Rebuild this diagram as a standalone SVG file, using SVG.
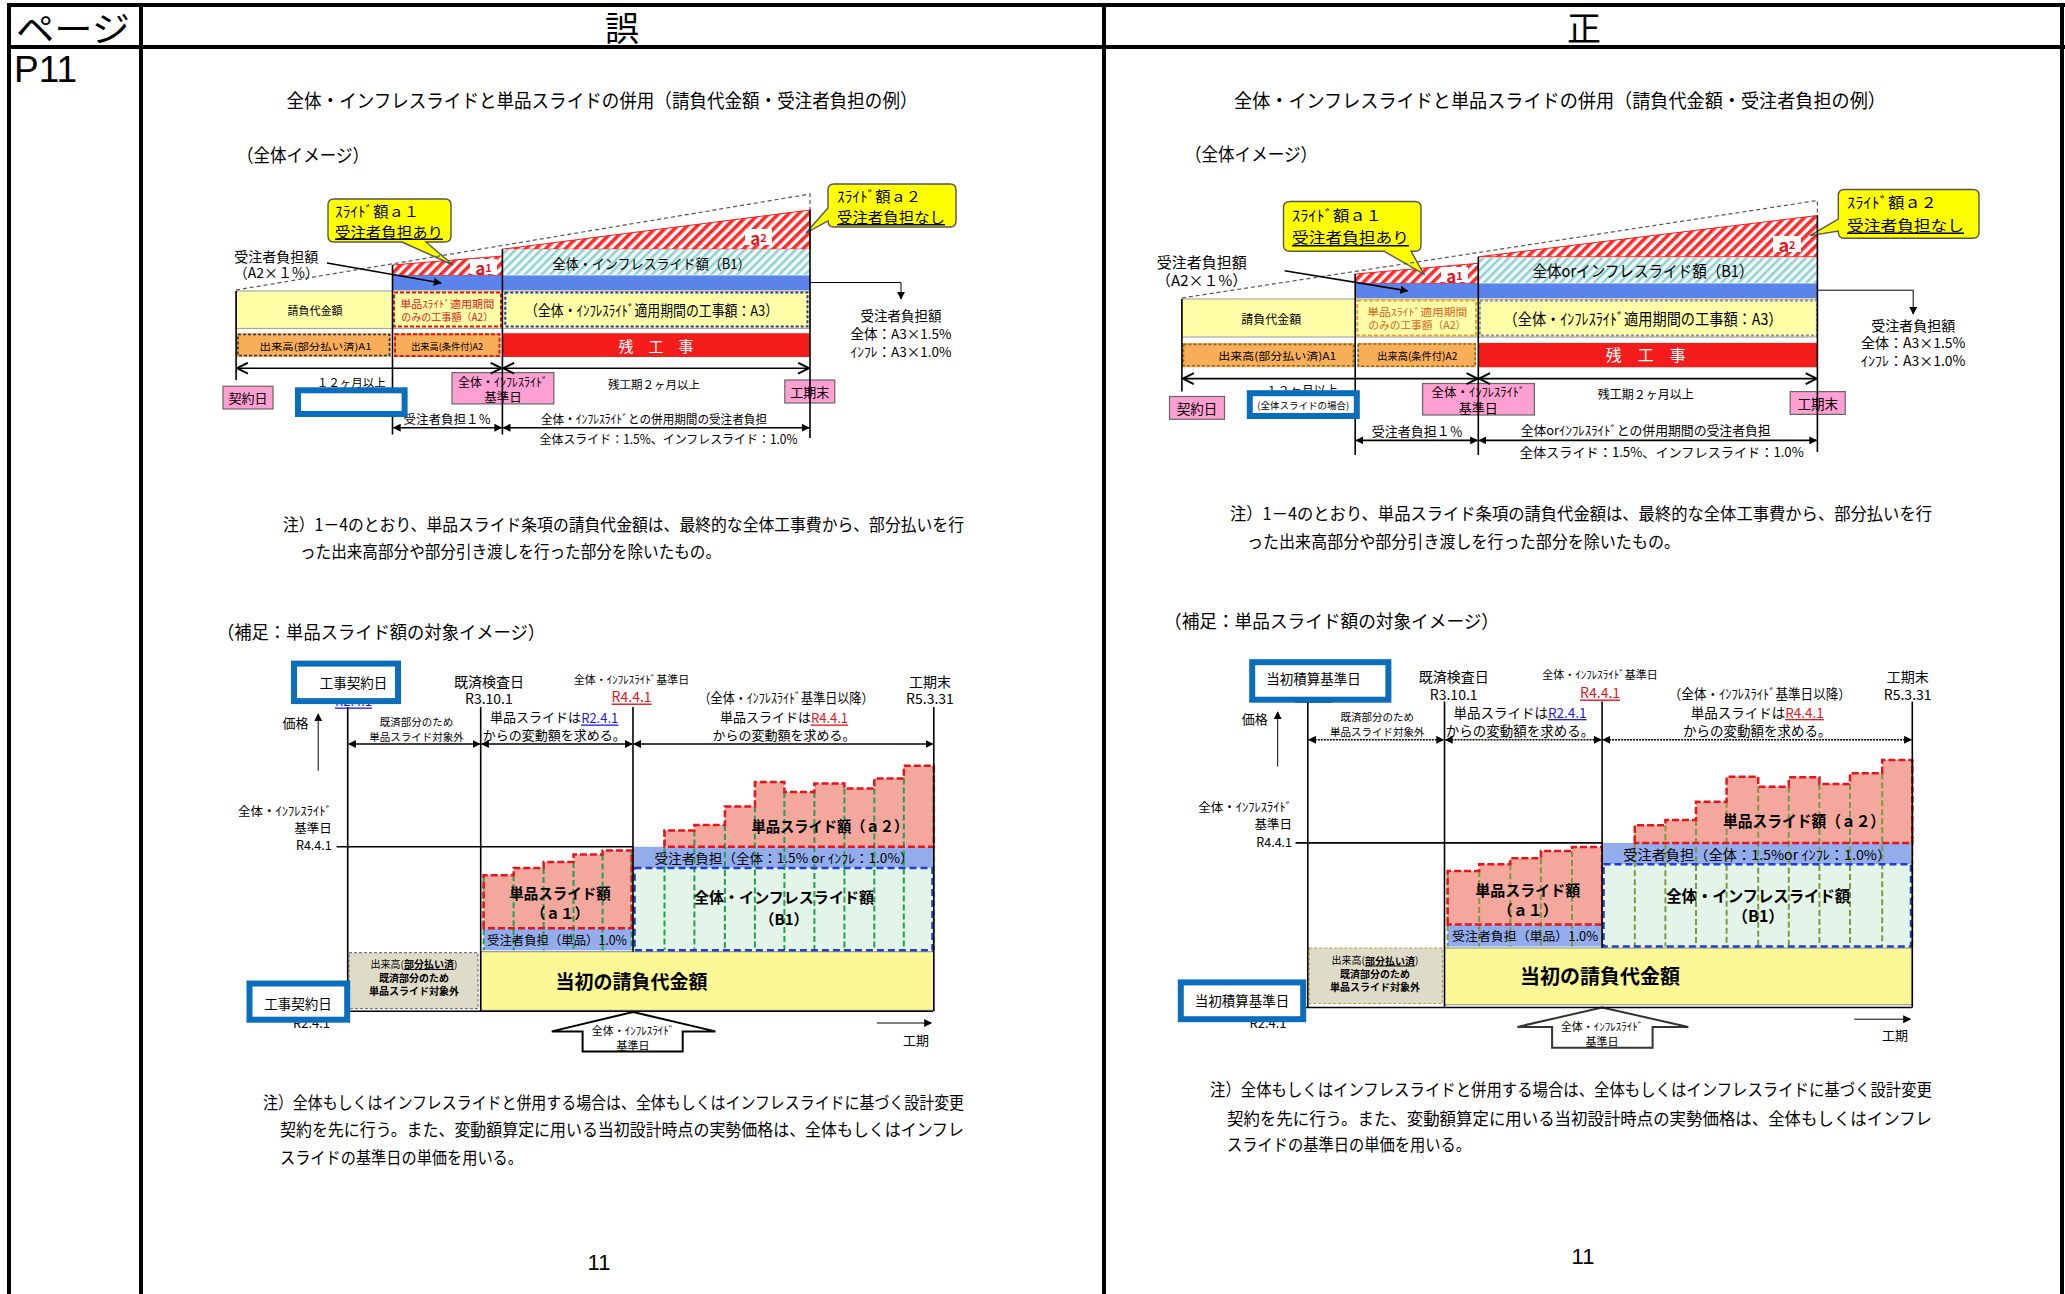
<svg xmlns="http://www.w3.org/2000/svg" width="2065" height="1294" viewBox="0 0 2065 1294">
<defs>
<style>
text{font-family:"Noto Sans CJK JP","Noto Sans",sans-serif;fill:#000;dominant-baseline:central}
.m{text-anchor:middle}
.e{text-anchor:end}
.b{font-weight:bold}
.u{text-decoration:underline}
.grid{stroke:#000;stroke-width:4;fill:none}
.ln{stroke:#000;stroke-width:1.6;fill:none}
.thin{stroke:#000;stroke-width:1;fill:none}
.dsh{stroke:#555;stroke-width:1.2;fill:none;stroke-dasharray:4 3}
.hl{fill:#fff;stroke:#0a6ebd;stroke-width:6}
.pink{fill:#ff9fd2;stroke:#666;stroke-width:1.2}
.call{fill:#ffff00;stroke:#555;stroke-width:1.4}
.yel{fill:#ffffa8;stroke:#999;stroke-width:1}
.org{fill:#f8ad58}
.red{fill:#f51c1c}
.blu{fill:#5a84ea}
.hr{fill:url(#hr);stroke:#f02020;stroke-width:1}
.ht{fill:url(#ht)}
.rd{fill:none;stroke:#e8141c;stroke-width:2;stroke-dasharray:4 2}
.bd{fill:none;stroke:#2838a8;stroke-width:2;stroke-dasharray:3 2}
.kd{fill:none;stroke:#333;stroke-width:1.6;stroke-dasharray:3 2}
.sal{fill:#f4a79d}
.lb{fill:#93adec}
.b1{fill:#e3f5e8}
.gv{stroke:#22a050;stroke-width:2;stroke-dasharray:6 3;fill:none}
.rs{fill:none;stroke:#e8141c;stroke-width:2.5;stroke-dasharray:7 3}
.bb{fill:none;stroke:#1f3fd0;stroke-width:2.5;stroke-dasharray:7 4}
.ty{fill:#fbf895;stroke:#888;stroke-width:1}
.gr{fill:#dedbc8;stroke:#777;stroke-width:1.2;stroke-dasharray:3 2}
.lbl{fill:#fff}
.al{fill:#e8141c;font-weight:bold}
.bl{fill:#1a1aee}
.rr{fill:#e8141c}
</style>
<pattern id="hr" width="7" height="7" patternUnits="userSpaceOnUse" patternTransform="rotate(45)"><rect width="7" height="7" fill="#fff"/><rect width="3.6" height="7" fill="#ff2a2a"/></pattern>
<pattern id="ht" width="6" height="6" patternUnits="userSpaceOnUse" patternTransform="rotate(45)"><rect width="6" height="6" fill="#eef8f8"/><rect width="2.4" height="6" fill="#8fcfd0"/></pattern>
<marker id="ar" viewBox="0 0 10 10" refX="9" refY="5" markerWidth="8" markerHeight="8" markerUnits="userSpaceOnUse" orient="auto-start-reverse"><path d="M0,0 L10,5 L0,10 z" fill="#000"/></marker>
<marker id="ch" viewBox="0 0 12 12" refX="11" refY="6" markerWidth="13" markerHeight="13" markerUnits="userSpaceOnUse" orient="auto-start-reverse"><path d="M1,1 L11,6 L1,11" fill="none" stroke="#000" stroke-width="1.8"/></marker>
</defs>
<rect x="0" y="0" width="2065" height="1294" fill="#fff"/>

<g id="table">
<line x1="7" y1="5" x2="2065" y2="5" class="grid" stroke-width="5"/>
<line x1="7" y1="47" x2="2065" y2="47" class="grid"/>
<line x1="9" y1="3" x2="9" y2="1294" class="grid"/>
<line x1="141" y1="3" x2="141" y2="1294" class="grid"/>
<line x1="1104" y1="3" x2="1104" y2="1294" class="grid"/>
<line x1="2062" y1="3" x2="2062" y2="1294" class="grid"/>
<text x="73" y="26" class="m" font-size="35" textLength="114" lengthAdjust="spacingAndGlyphs">ページ</text>
<text x="622" y="26" class="m" font-size="34">誤</text>
<text x="1584" y="26" class="m" font-size="34">正</text>
<text x="14" y="69" font-size="37" style="font-family:'Liberation Sans',sans-serif">P11</text>
</g>

<!-- ===================== 誤 (left) ===================== -->
<g id="wrong">
<text x="602" y="99" class="m" font-size="19" textLength="631" lengthAdjust="spacingAndGlyphs">全体・インフレスライドと単品スライドの併用（請負代金額・受注者負担の例）</text>
<text x="237" y="154" font-size="18" textLength="132" lengthAdjust="spacingAndGlyphs">（全体イメージ）</text>

<g id="L-a2"><polygon points="502.4,249.2 810,210 810,249.2" class="hr"/></g>
<g id="L-b1"><rect x="502.4" y="249.2" width="307.6" height="25.5" class="ht"/>
<text x="651.6" y="263" class="m" font-size="14" textLength="198" lengthAdjust="spacingAndGlyphs">全体・インフレスライド額（B1）</text></g>
<g id="L-a1"><polygon points="392.5,265 502.4,256 502.4,275.4 392.5,275.4" class="hr"/></g>
<g id="L-band"><rect x="392.5" y="275.4" width="417.5" height="14.6" class="blu"/></g>
<g id="L-a1lbl"><rect x="470" y="259" width="27" height="15" class="lbl"/><text x="483.5" y="267" class="m al"><tspan font-size="17">a</tspan><tspan font-size="11">1</tspan></text></g>
<g id="L-a2lbl"><rect x="745" y="229" width="27" height="16" class="lbl"/><text x="758.5" y="237" class="m al"><tspan font-size="17">a</tspan><tspan font-size="11">2</tspan></text></g>
<g id="L-yellow"><rect x="236" y="291" width="574" height="37.4" class="yel"/>
<text x="315" y="310" class="m" font-size="11">請負代金額</text></g>
<g id="L-A2"><rect x="394" y="292.4" width="107" height="34" class="rd" fill="#ffffa8"/>
<text x="447.2" y="303.5" class="m rr" font-size="10" textLength="94" lengthAdjust="spacingAndGlyphs">単品ｽﾗｲﾄﾞ適用期間</text>
<text x="447.2" y="316.5" class="m rr" font-size="10" textLength="92" lengthAdjust="spacingAndGlyphs">のみの工事額（A2）</text></g>
<g id="L-A3"><rect x="505.3" y="292.4" width="302.2" height="34" class="bd"/>
<text x="651.6" y="309.4" class="m" font-size="15" fill="#222" textLength="253" lengthAdjust="spacingAndGlyphs">（全体・ｲﾝﾌﾚｽﾗｲﾄﾞ適用期間の工事額：A3）</text></g>
<g id="L-A1"><rect x="236.5" y="333.2" width="154.5" height="23.8" class="org"/><rect x="238" y="334.5" width="151.5" height="21" class="kd"/>
<text x="315.5" y="346" class="m" font-size="9.5" textLength="112" lengthAdjust="spacingAndGlyphs">出来高(部分払い済)A1</text></g>
<g id="L-A2b"><rect x="394" y="333.2" width="106.5" height="23.8" class="org"/><rect x="395" y="334.3" width="104.5" height="21.6" class="rd"/>
<text x="447.2" y="346" class="m" font-size="9.5" textLength="72" lengthAdjust="spacingAndGlyphs">出来高(条件付)A2</text></g>
<g id="L-rest"><rect x="502.4" y="333.2" width="307.6" height="23.8" class="red"/>
<text x="656" y="345" class="m" font-size="15" style="fill:#fff">残　工　事</text></g>

<g id="L-callout1"><path d="M334,199 H445 Q451,199 451,205 V236 Q451,242 445,242 H426 L453,265 L402,242 H334 Q328,242 328,236 V205 Q328,199 334,199 Z" class="call"/>
<text x="335" y="210" font-size="14.5" textLength="84" lengthAdjust="spacingAndGlyphs">ｽﾗｲﾄﾞ額ａ１</text>
<text x="335" y="231" font-size="14.5" class="u" textLength="108" lengthAdjust="spacingAndGlyphs">受注者負担あり</text></g>
<g id="L-callout2"><path d="M834,184 H950 Q956,184 956,190 V221 Q956,227 950,227 H834 Q828,227 828,221 L806,233 L828,208 V190 Q828,184 834,184 Z" class="call"/>
<text x="837" y="195.5" font-size="14.5" textLength="84" lengthAdjust="spacingAndGlyphs">ｽﾗｲﾄﾞ額ａ２</text>
<text x="837" y="216.5" font-size="14.5" class="u" textLength="108" lengthAdjust="spacingAndGlyphs">受注者負担なし</text></g>

<g id="L-burden"><text x="276.3" y="255.5" class="m" font-size="14">受注者負担額</text><text x="276.3" y="272" class="m" font-size="14">（A2×１%）</text></g>
<g id="L-burden2"><text x="901" y="315" class="m" font-size="13.5">受注者負担額</text><text x="901" y="333.2" class="m" font-size="13.5">全体：A3×1.5%</text><text x="901" y="351" class="m" font-size="13.5">ｲﾝﾌﾚ：A3×1.0%</text></g>
<g id="L-keiyaku"><rect x="223" y="386.2" width="50" height="22.8" class="pink"/><text x="248" y="397.6" class="m" font-size="13">契約日</text></g>
<g id="L-kijun"><rect x="452" y="372.6" width="101.8" height="31.3" class="pink"/><text x="502.9" y="381" class="m" font-size="12">全体・ｲﾝﾌﾚｽﾗｲﾄﾞ</text><text x="502.9" y="396" class="m" font-size="12.5">基準日</text></g>
<g id="L-kouki"><rect x="784.8" y="380" width="50" height="23" class="pink"/><text x="809.7" y="391.5" class="m" font-size="13">工期末</text></g>
<text x="351.3" y="381.8" class="m" font-size="11.5">１２ヶ月以上</text>
<text x="654" y="383.5" class="m" font-size="11.5">残工期２ヶ月以上</text>
<text x="447.2" y="418.5" class="m" font-size="12.5">受注者負担１％</text>
<text x="654" y="418.5" class="m" font-size="12.5" textLength="226" lengthAdjust="spacingAndGlyphs">全体・ｲﾝﾌﾚｽﾗｲﾄﾞとの併用期間の受注者負担</text>
<text x="668.5" y="438" class="m" font-size="12.5" textLength="258" lengthAdjust="spacingAndGlyphs">全体スライド：1.5%、インフレスライド：1.0%</text>

<text x="283" y="523" font-size="17" textLength="681" lengthAdjust="spacingAndGlyphs">注）1－4のとおり、単品スライド条項の請負代金額は、最終的な全体工事費から、部分払いを行</text>
<text x="300" y="550.5" font-size="17" textLength="421" lengthAdjust="spacingAndGlyphs">った出来高部分や部分引き渡しを行った部分を除いたもの。</text>
<text x="217" y="631" font-size="18" textLength="328" lengthAdjust="spacingAndGlyphs">（補足：単品スライド額の対象イメージ）</text>

<!-- bottom-left chart -->
<g id="L-grey"><rect x="349" y="952.7" width="129" height="55.9" class="gr"/>
<text x="414" y="963" class="m" font-size="10">出来高(<tspan class="b u">部分払い済</tspan>)</text>
<text x="414" y="977" class="m b" font-size="10">既済部分のため</text>
<text x="414" y="990" class="m b" font-size="10">単品スライド対象外</text></g>
<g id="L-initial"><rect x="480.7" y="951.7" width="453.1" height="58.6" class="ty"/>
<text x="631.6" y="980" class="m b" font-size="19">当初の請負代金額</text></g>
<g id="L-bars1">
<path d="M483.6,928.2 V875.3 H513.6 V867.9 H543.6 V861.9 H573.5 V854.5 H602.6 V850.5 H631.6 V928.2 Z" class="sal"/>
<rect x="483.6" y="928.2" width="148" height="22.1" class="lb"/>
<path d="M483.6,875.3V950.3M513.6,875.3V950.3M543.6,867.9V950.3M573.5,861.9V950.3M602.6,854.5V950.3M631.6,850.5V950.3" class="gv"/>
<path d="M483.6,928.2 V875.3 H513.6 V867.9 H543.6 V861.9 H573.5 V854.5 H602.6 V850.5 H631.6 V928.2 Z" class="rs"/>
<text x="560" y="892" class="m b" font-size="14.5">単品スライド額</text>
<text x="560" y="912" class="m b" font-size="14.5">（ａ１）</text>
<text x="557" y="939" class="m" font-size="12.5" fill="#333" textLength="140" lengthAdjust="spacingAndGlyphs">受注者負担（単品）1.0%</text>
</g>
<g id="L-bars2">
<path d="M664.5,846.8 V830.4 H694.4 V825 H724.9 V806.6 H754.9 V782.1 H784.4 V791.9 H814.4 V783.5 H844.4 V788.5 H874.3 V778.5 H903.8 V765.7 H933.8 V846.8 Z" class="sal"/>
<rect x="633" y="846.8" width="300.8" height="21.1" class="lb"/>
<rect x="633" y="867.9" width="300.8" height="82.4" class="b1"/>
<path d="M664.5,830.4V950.3M694.4,830.4V950.3M724.9,825V950.3M754.9,806.6V950.3M784.4,791.9V950.3M814.4,791.9V950.3M844.4,788.5V950.3M874.3,788.5V950.3M903.8,778.5V950.3M933.8,765.7V950.3" class="gv"/>
<path d="M664.5,846.8 V830.4 H694.4 V825 H724.9 V806.6 H754.9 V782.1 H784.4 V791.9 H814.4 V783.5 H844.4 V788.5 H874.3 V778.5 H903.8 V765.7 H933.8 V846.8 Z" class="rs"/>
<rect x="634.5" y="867.9" width="298" height="82.4" class="bb"/>
<text x="829.9" y="825" class="m b" font-size="15" textLength="157" lengthAdjust="spacingAndGlyphs">単品スライド額（ａ２）</text>
<text x="784" y="857" class="m" font-size="13" fill="#333" textLength="259" lengthAdjust="spacingAndGlyphs">受注者負担（全体：1.5% or ｲﾝﾌﾚ：1.0%）</text>
<text x="784" y="896" class="m b" font-size="15" textLength="180" lengthAdjust="spacingAndGlyphs">全体・インフレスライド額</text>
<text x="784" y="918" class="m b" font-size="15">（B1）</text>
</g>
<g id="L-uparrow"><polygon points="633,1012 715.4,1031.4 682.7,1031.4 682.7,1051.5 582.6,1051.5 582.6,1031.4 551.8,1031.4" fill="#fff" stroke="#000" stroke-width="2"/>
<text x="633" y="1030" class="m" font-size="11">全体・ｲﾝﾌﾚｽﾗｲﾄﾞ</text><text x="633" y="1044.5" class="m" font-size="11">基準日</text></g>

<text x="488.9" y="681" class="m" font-size="14">既済検査日</text>
<text x="488.9" y="698" class="m" font-size="14">R3.10.1</text>
<text x="631.6" y="679" class="m" font-size="11">全体・ｲﾝﾌﾚｽﾗｲﾄﾞ基準日</text>
<text x="631.6" y="695.5" class="m u rr" font-size="14">R4.4.1</text>
<text x="786" y="697" class="m" font-size="13.5" textLength="175" lengthAdjust="spacingAndGlyphs">（全体・ｲﾝﾌﾚｽﾗｲﾄﾞ基準日以降）</text>
<text x="930" y="681" class="m" font-size="14">工期末</text>
<text x="930" y="698" class="m" font-size="14">R5.3.31</text>
<text x="295.5" y="722" class="m" font-size="13">価格</text>
<text x="416.4" y="721" class="m" font-size="10.5">既済部分のため</text>
<text x="416.4" y="736" class="m" font-size="10.5">単品スライド対象外</text>
<text x="554.2" y="716.5" class="m" font-size="13">単品スライドは<tspan class="u bl">R2.4.1</tspan></text>
<text x="554.2" y="734" class="m" font-size="13">からの変動額を求める。</text>
<text x="784" y="716.5" class="m" font-size="13">単品スライドは<tspan class="u rr">R4.4.1</tspan></text>
<text x="784" y="734" class="m" font-size="13">からの変動額を求める。</text>
<text x="331.7" y="810" class="e" font-size="12.5">全体・ｲﾝﾌﾚｽﾗｲﾄﾞ</text>
<text x="331.7" y="827" class="e" font-size="12.5">基準日</text>
<text x="331.7" y="844.5" class="e" font-size="12.5">R4.4.1</text>
<text x="916" y="1039" class="m" font-size="13">工期</text>
<text x="311.5" y="1022" class="m" font-size="13">R2.4.1</text>
<text x="353.5" y="700" class="m u bl" font-size="13">R2.4.1</text>

<text x="263" y="1101" font-size="17" textLength="701" lengthAdjust="spacingAndGlyphs">注）全体もしくはインフレスライドと併用する場合は、全体もしくはインフレスライドに基づく設計変更</text>
<text x="280" y="1128.6" font-size="17" textLength="684" lengthAdjust="spacingAndGlyphs">契約を先に行う。また、変動額算定に用いる当初設計時点の実勢価格は、全体もしくはインフレ</text>
<text x="280" y="1156" font-size="17" textLength="243" lengthAdjust="spacingAndGlyphs">スライドの基準日の単価を用いる。</text>
<text x="599" y="1262" class="m" font-size="22" style="font-family:'Liberation Sans',sans-serif">11</text>
</g>

<!-- ===================== 正 (right) ===================== -->
<g id="correct">
<text x="1560" y="99" class="m" font-size="19" textLength="652" lengthAdjust="spacingAndGlyphs">全体・インフレスライドと単品スライドの併用（請負代金額・受注者負担の例）</text>
<text x="1185" y="153" font-size="18" textLength="132" lengthAdjust="spacingAndGlyphs">（全体イメージ）</text>

<g id="R-a2"><polygon points="1478.3,256.8 1817.4,215.5 1817.4,256.8" class="hr"/></g>
<g id="R-b1"><rect x="1478.3" y="257.7" width="339.1" height="25.1" class="ht"/>
<text x="1643" y="269.8" class="m" font-size="16" textLength="221" lengthAdjust="spacingAndGlyphs">全体orインフレスライド額（B1）</text></g>
<g id="R-a1"><polygon points="1355.2,274 1478.3,263.3 1478.3,283.4 1355.2,283.4" class="hr"/></g>
<g id="R-band"><rect x="1355.2" y="283.4" width="462.2" height="14.6" class="blu"/></g>
<g id="R-a1lbl"><rect x="1441" y="267" width="27" height="15" class="lbl"/><text x="1454.5" y="275" class="m al"><tspan font-size="17">a</tspan><tspan font-size="11">1</tspan></text></g>
<g id="R-a2lbl"><rect x="1773" y="236" width="28" height="16" class="lbl"/><text x="1787" y="244" class="m al"><tspan font-size="18">a</tspan><tspan font-size="11">2</tspan></text></g>
<g id="R-yellow"><rect x="1181.9" y="299" width="635.5" height="38" class="yel"/>
<text x="1271.2" y="318.5" class="m" font-size="12">請負代金額</text></g>
<g id="R-A2"><rect x="1357.3" y="300.5" width="118.8" height="35" class="rd" fill="#ffffa8" style="stroke:#e8a040"/>
<text x="1417.3" y="311" class="m" font-size="10.5" style="fill:#e06020" textLength="100" lengthAdjust="spacingAndGlyphs">単品ｽﾗｲﾄﾞ適用期間</text>
<text x="1417.3" y="324" class="m" font-size="10.5" style="fill:#e06020" textLength="98" lengthAdjust="spacingAndGlyphs">のみの工事額（A2）</text></g>
<g id="R-A3"><rect x="1479.9" y="300.5" width="337" height="35" class="bd" style="stroke:#8888aa"/>
<text x="1643" y="317.5" class="m" font-size="16" fill="#222" textLength="279" lengthAdjust="spacingAndGlyphs">（全体・ｲﾝﾌﾚｽﾗｲﾄﾞ適用期間の工事額：A3）</text></g>
<g id="R-A1"><rect x="1181.9" y="342.9" width="173" height="24.4" class="org"/><rect x="1183.5" y="344.4" width="170" height="21.4" class="kd" style="stroke:#8a6a20"/>
<text x="1277.2" y="355.2" class="m" font-size="10.5" textLength="118" lengthAdjust="spacingAndGlyphs">出来高(部分払い済)A1</text></g>
<g id="R-A2b"><rect x="1357.3" y="342.9" width="118.8" height="24.4" class="org"/><rect x="1358.3" y="344" width="116.8" height="22.2" class="kd" style="stroke:#8a6a20"/>
<text x="1417.3" y="355.2" class="m" font-size="10.5" textLength="80" lengthAdjust="spacingAndGlyphs">出来高(条件付)A2</text></g>
<g id="R-rest"><rect x="1478.3" y="342.9" width="339.1" height="24.4" class="red"/>
<text x="1645.7" y="353.6" class="m" font-size="16" style="fill:#fff">残　工　事</text></g>

<g id="R-callout1"><path d="M1290,201.5 H1415 Q1421,201.5 1421,207.5 V245.2 Q1421,251.2 1415,251.2 H1411 L1423.7,274 L1384,251.2 H1290 Q1283.5,251.2 1283.5,245.2 V207.5 Q1283.5,201.5 1290,201.5 Z" class="call"/>
<text x="1292" y="214" font-size="15" textLength="90" lengthAdjust="spacingAndGlyphs">ｽﾗｲﾄﾞ額ａ１</text>
<text x="1292" y="236.5" font-size="15" class="u" textLength="117" lengthAdjust="spacingAndGlyphs">受注者負担あり</text></g>
<g id="R-callout2"><path d="M1844.5,189.5 H1973 Q1979,189.5 1979,195.5 V232.2 Q1979,238.2 1973,238.2 H1844.5 Q1838.3,238.2 1838.3,232.2 V231 L1810,235.6 L1838.3,219 V195.5 Q1838.3,189.5 1844.5,189.5 Z" class="call"/>
<text x="1847" y="201.5" font-size="15" textLength="90" lengthAdjust="spacingAndGlyphs">ｽﾗｲﾄﾞ額ａ２</text>
<text x="1847" y="224" font-size="15" class="u" textLength="117" lengthAdjust="spacingAndGlyphs">受注者負担なし</text></g>

<g id="R-burden"><text x="1201.7" y="261.5" class="m" font-size="15">受注者負担額</text><text x="1201.7" y="279.5" class="m" font-size="15">（A2×１%）</text></g>
<g id="R-burden2"><text x="1913.2" y="324.5" class="m" font-size="14">受注者負担額</text><text x="1913.2" y="342.2" class="m" font-size="14">全体：A3×1.5%</text><text x="1913.2" y="360" class="m" font-size="14">ｲﾝﾌﾚ：A3×1.0%</text></g>
<g id="R-keiyaku"><rect x="1169.5" y="396.5" width="55" height="22.8" class="pink"/><text x="1197" y="408" class="m" font-size="13.5">契約日</text></g>
<g id="R-kijun"><rect x="1422.6" y="383.5" width="111.8" height="31.5" class="pink"/><text x="1478.3" y="391.3" class="m" font-size="12.5">全体・ｲﾝﾌﾚｽﾗｲﾄﾞ</text><text x="1478.3" y="407" class="m" font-size="13">基準日</text></g>
<g id="R-kouki"><rect x="1790.2" y="391.6" width="55" height="22.8" class="pink"/><text x="1817.7" y="403" class="m" font-size="13.5">工期末</text></g>
<text x="1301.7" y="389" class="m" font-size="12">１２ヶ月以上</text>
<text x="1645.7" y="393.3" class="m" font-size="12">残工期２ヶ月以上</text>
<text x="1417.3" y="430" class="m" font-size="13">受注者負担１％</text>
<text x="1645.7" y="429.5" class="m" font-size="13" textLength="250" lengthAdjust="spacingAndGlyphs">全体orｲﾝﾌﾚｽﾗｲﾄﾞとの併用期間の受注者負担</text>
<text x="1661.8" y="451" class="m" font-size="13" textLength="284" lengthAdjust="spacingAndGlyphs">全体スライド：1.5%、インフレスライド：1.0%</text>

<text x="1230" y="512" font-size="17" textLength="702" lengthAdjust="spacingAndGlyphs">注）1－4のとおり、単品スライド条項の請負代金額は、最終的な全体工事費から、部分払いを行</text>
<text x="1247" y="540" font-size="17" textLength="433" lengthAdjust="spacingAndGlyphs">った出来高部分や部分引き渡しを行った部分を除いたもの。</text>
<text x="1164" y="620" font-size="18" textLength="335" lengthAdjust="spacingAndGlyphs">（補足：単品スライド額の対象イメージ）</text>

<g id="R-grey"><rect x="1309.3" y="948" width="133.2" height="55.5" class="gr" style="stroke:#b8a040"/>
<text x="1375" y="959.5" class="m" font-size="10">出来高(<tspan class="b u">部分払い済</tspan>)</text>
<text x="1375" y="973" class="m b" font-size="10">既済部分のため</text>
<text x="1375" y="986" class="m b" font-size="10">単品スライド対象外</text></g>
<g id="R-initial"><rect x="1444.5" y="948" width="467.8" height="56.8" class="ty"/>
<text x="1600.1" y="975.7" class="m b" font-size="20">当初の請負代金額</text></g>
<g id="R-bars1">
<path d="M1447.6,924.5 V871 H1479.2 V864.3 H1510.3 V858.3 H1540.9 V851 H1572 V846.9 H1602.1 V924.5 Z" class="sal"/>
<rect x="1447.6" y="924.5" width="154.5" height="22.1" class="lb"/>
<path d="M1447.6,871V946.6M1479.2,871V946.6M1510.3,864.3V946.6M1540.9,858.3V946.6M1572,851V946.6M1602.1,846.9V946.6" class="gv" style="stroke:#7a9a40"/>
<path d="M1447.6,924.5 V871 H1479.2 V864.3 H1510.3 V858.3 H1540.9 V851 H1572 V846.9 H1602.1 V924.5 Z" class="rs"/>
<text x="1527.7" y="889" class="m b" font-size="15">単品スライド額</text>
<text x="1527.7" y="909.5" class="m b" font-size="15">（ａ１）</text>
<text x="1525.1" y="935.6" class="m" font-size="12.5" fill="#333" textLength="146" lengthAdjust="spacingAndGlyphs">受注者負担（単品）1.0%</text>
</g>
<g id="R-bars2">
<path d="M1634.8,842.9 V825.2 H1665.4 V820.1 H1696 V801.7 H1726.6 V776.7 H1758.2 V786.7 H1788.8 V777.3 H1819.4 V784 H1850 V773.3 H1882.2 V759.9 H1912.3 V842.9 Z" class="sal"/>
<rect x="1602.1" y="842.9" width="310.2" height="21.4" class="lb"/>
<rect x="1602.1" y="864.3" width="310.2" height="82.3" class="b1"/>
<path d="M1634.8,825.2V946.6M1665.4,825.2V946.6M1696,820.1V946.6M1726.6,801.7V946.6M1758.2,786.7V946.6M1788.8,786.7V946.6M1819.4,784V946.6M1850,784V946.6M1882.2,773.3V946.6M1912.3,759.9V946.6" class="gv" style="stroke:#7a9a40"/>
<path d="M1634.8,842.9 V825.2 H1665.4 V820.1 H1696 V801.7 H1726.6 V776.7 H1758.2 V786.7 H1788.8 V777.3 H1819.4 V784 H1850 V773.3 H1882.2 V759.9 H1912.3 V842.9 Z" class="rs"/>
<rect x="1603.5" y="864.3" width="307.5" height="82.3" class="bb"/>
<text x="1804.1" y="820.1" class="m b" font-size="16" textLength="162" lengthAdjust="spacingAndGlyphs">単品スライド額（ａ２）</text>
<text x="1757.2" y="853.6" class="m" font-size="13.5" fill="#333" textLength="268" lengthAdjust="spacingAndGlyphs">受注者負担（全体：1.5%or ｲﾝﾌﾚ：1.0%）</text>
<text x="1758.2" y="894.5" class="m b" font-size="16" textLength="184" lengthAdjust="spacingAndGlyphs">全体・インフレスライド額</text>
<text x="1758.2" y="915" class="m b" font-size="16">（B1）</text>
</g>
<g id="R-uparrow"><polygon points="1602.1,1007.5 1688.3,1026.9 1652.6,1026.9 1652.6,1047.7 1552.1,1047.7 1552.1,1026.9 1517.4,1026.9" fill="#fff" stroke="#333" stroke-width="2"/>
<text x="1602" y="1026" class="m" font-size="11">全体・ｲﾝﾌﾚｽﾗｲﾄﾞ</text><text x="1602" y="1040.5" class="m" font-size="11">基準日</text></g>

<text x="1453.7" y="675.5" class="m" font-size="14">既済検査日</text>
<text x="1453.7" y="693.5" class="m" font-size="14">R3.10.1</text>
<text x="1600.1" y="674" class="m" font-size="11">全体・ｲﾝﾌﾚｽﾗｲﾄﾞ基準日</text>
<text x="1600.1" y="691.5" class="m u rr" font-size="14">R4.4.1</text>
<text x="1759.8" y="693" class="m" font-size="13.5" textLength="182" lengthAdjust="spacingAndGlyphs">（全体・ｲﾝﾌﾚｽﾗｲﾄﾞ基準日以降）</text>
<text x="1907.7" y="675.5" class="m" font-size="14">工期末</text>
<text x="1907.7" y="693.5" class="m" font-size="14">R5.3.31</text>
<text x="1254.7" y="718" class="m" font-size="13">価格</text>
<text x="1377.2" y="716.5" class="m" font-size="10.5">既済部分のため</text>
<text x="1377.2" y="731" class="m" font-size="10.5">単品スライド対象外</text>
<text x="1520" y="712" class="m" font-size="13.5">単品スライドは<tspan class="u bl">R2.4.1</tspan></text>
<text x="1520" y="729.5" class="m" font-size="13.5">からの変動額を求める。</text>
<text x="1757.2" y="712" class="m" font-size="13.5">単品スライドは<tspan class="u rr">R4.4.1</tspan></text>
<text x="1757.2" y="729.5" class="m" font-size="13.5">からの変動額を求める。</text>
<text x="1292" y="806" class="e" font-size="12.5">全体・ｲﾝﾌﾚｽﾗｲﾄﾞ</text>
<text x="1292" y="823" class="e" font-size="12.5">基準日</text>
<text x="1292" y="841" class="e" font-size="12.5">R4.4.1</text>
<text x="1895" y="1034" class="m" font-size="13">工期</text>
<text x="1268" y="1022" class="m" font-size="13">R2.4.1</text>
<text x="1313.4" y="694" class="m u bl" font-size="13">R2.4.1</text>

<text x="1210" y="1088" font-size="17" textLength="722" lengthAdjust="spacingAndGlyphs">注）全体もしくはインフレスライドと併用する場合は、全体もしくはインフレスライドに基づく設計変更</text>
<text x="1227" y="1117" font-size="17" textLength="705" lengthAdjust="spacingAndGlyphs">契約を先に行う。また、変動額算定に用いる当初設計時点の実勢価格は、全体もしくはインフレ</text>
<text x="1227" y="1143" font-size="17" textLength="244" lengthAdjust="spacingAndGlyphs">スライドの基準日の単価を用いる。</text>
<text x="1583" y="1256" class="m" font-size="22" style="font-family:'Liberation Sans',sans-serif">11</text>
</g>

<!-- ===================== connectors ===================== -->
<g id="connectors">
<polyline points="236,290 810,194 810,210" class="dsh"/>
<line x1="327" y1="263" x2="441" y2="283" class="ln" marker-end="url(#ar)"/>
<polyline points="810,282.5 901,282.5 901,299" class="thin" marker-end="url(#ar)"/>
<line x1="236.1" y1="291" x2="236.1" y2="380" class="ln"/>
<line x1="392.5" y1="265" x2="392.5" y2="434.5" class="ln"/>
<line x1="502.4" y1="249" x2="502.4" y2="434.5" class="ln"/>
<line x1="810" y1="210" x2="810" y2="438" class="ln"/>
<line x1="237" y1="368.2" x2="501.5" y2="368.2" class="ln" stroke-width="2" marker-start="url(#ch)" marker-end="url(#ch)"/>
<line x1="503.3" y1="368.2" x2="809" y2="368.2" class="ln" stroke-width="2" marker-start="url(#ch)" marker-end="url(#ch)"/>
<line x1="393.5" y1="427.7" x2="501.5" y2="427.7" class="ln" marker-start="url(#ar)" marker-end="url(#ar)"/>
<line x1="503.3" y1="427.7" x2="809" y2="427.7" class="ln" marker-start="url(#ar)" marker-end="url(#ar)"/>
<polyline points="1181.9,298 1817.4,200.5 1817.4,215.5" class="dsh"/>
<line x1="1284.6" y1="270.7" x2="1407.6" y2="290.9" class="ln" marker-end="url(#ar)"/>
<polyline points="1817.4,290.2 1913.2,290.2 1913.2,314" class="thin" marker-end="url(#ar)"/>
<line x1="1181.9" y1="299" x2="1181.9" y2="391.6" class="ln"/>
<line x1="1355.2" y1="274" x2="1355.2" y2="455" class="ln"/>
<line x1="1478.3" y1="256.8" x2="1478.3" y2="455" class="ln"/>
<line x1="1817.4" y1="215.5" x2="1817.4" y2="452" class="ln"/>
<line x1="1183" y1="378.6" x2="1477.4" y2="378.6" class="ln" stroke-width="2" marker-start="url(#ch)" marker-end="url(#ch)"/>
<line x1="1479.2" y1="378.6" x2="1816.5" y2="378.6" class="ln" stroke-width="2" marker-start="url(#ch)" marker-end="url(#ch)"/>
<line x1="1356.2" y1="440.4" x2="1477.4" y2="440.4" class="ln" marker-start="url(#ar)" marker-end="url(#ar)"/>
<line x1="1479.2" y1="440.4" x2="1816.5" y2="440.4" class="ln" marker-start="url(#ar)" marker-end="url(#ar)"/>
<line x1="347.7" y1="707" x2="347.7" y2="1011.3" class="ln"/>
<line x1="480.7" y1="707" x2="480.7" y2="1011.3" class="ln"/>
<line x1="633" y1="707" x2="633" y2="951.7" class="ln"/>
<line x1="933.8" y1="707" x2="933.8" y2="1011.3" class="ln"/>
<line x1="336.6" y1="846.8" x2="633" y2="846.8" class="ln"/>
<line x1="336.6" y1="1011.3" x2="933" y2="1011.3" class="ln" stroke-width="2"/>
<line x1="318.2" y1="770.8" x2="318.2" y2="714" class="thin" marker-end="url(#ar)"/>
<line x1="348.7" y1="744" x2="479.7" y2="744" class="ln" marker-start="url(#ar)" marker-end="url(#ar)"/>
<line x1="481.7" y1="744" x2="632" y2="744" class="ln" marker-start="url(#ar)" marker-end="url(#ar)"/>
<line x1="634" y1="744" x2="932.8" y2="744" class="ln" marker-start="url(#ar)" marker-end="url(#ar)"/>
<line x1="876.8" y1="1023" x2="931.4" y2="1023" class="thin" marker-end="url(#ar)"/>
<line x1="1307.8" y1="701.4" x2="1307.8" y2="1007.5" class="ln"/>
<line x1="1444.5" y1="701.4" x2="1444.5" y2="1007.5" class="ln"/>
<line x1="1602.1" y1="701.4" x2="1602.1" y2="948" class="ln"/>
<line x1="1912.3" y1="701.4" x2="1912.3" y2="1007.5" class="ln"/>
<line x1="1295.6" y1="842.9" x2="1602.1" y2="842.9" class="ln"/>
<line x1="1295.6" y1="1007.5" x2="1912.3" y2="1007.5" class="ln" stroke-width="2"/>
<line x1="1277.7" y1="766.6" x2="1277.7" y2="712" class="thin" marker-end="url(#ar)"/>
<line x1="1308.8" y1="739.8" x2="1443.5" y2="739.8" class="ln" stroke-dasharray="2 1" marker-start="url(#ar)" marker-end="url(#ar)"/>
<line x1="1445.5" y1="739.8" x2="1601.1" y2="739.8" class="ln" stroke-dasharray="2 1" marker-start="url(#ar)" marker-end="url(#ar)"/>
<line x1="1603.1" y1="739.8" x2="1911.3" y2="739.8" class="ln" stroke-dasharray="2 1" marker-start="url(#ar)" marker-end="url(#ar)"/>
<line x1="1854.3" y1="1019.2" x2="1910.4" y2="1019.2" class="thin" marker-end="url(#ar)"/>
</g>

<!-- ===================== highlight boxes ===================== -->
<g id="highlights">
<g id="L-hl-top"><rect x="298" y="390.3" width="106.6" height="23.7" class="hl"/></g>
<g id="L-hl-date1"><rect x="294" y="663.6" width="104" height="37.5" class="hl"/><text x="353.5" y="682" class="m" font-size="13.5">工事契約日</text></g>
<g id="L-hl-date2"><rect x="249.5" y="983.5" width="97.7" height="36.2" class="hl"/><text x="298" y="1002.5" class="m" font-size="13.5">工事契約日</text></g>
<g id="R-hl-top"><rect x="1249.8" y="393.2" width="107" height="22.8" class="hl"/><text x="1303.3" y="404.5" class="m" font-size="9.5" fill="#444">(全体スライドの場合)</text></g>
<g id="R-hl-date1"><rect x="1252.2" y="662.2" width="136.2" height="37.5" class="hl"/><text x="1313.4" y="678" class="m" font-size="13.5">当初積算基準日</text></g>
<g id="R-hl-date2"><rect x="1180.8" y="982.4" width="122.4" height="36.8" class="hl"/><text x="1242" y="999.5" class="m" font-size="13.5">当初積算基準日</text></g>
</g>
</svg>
